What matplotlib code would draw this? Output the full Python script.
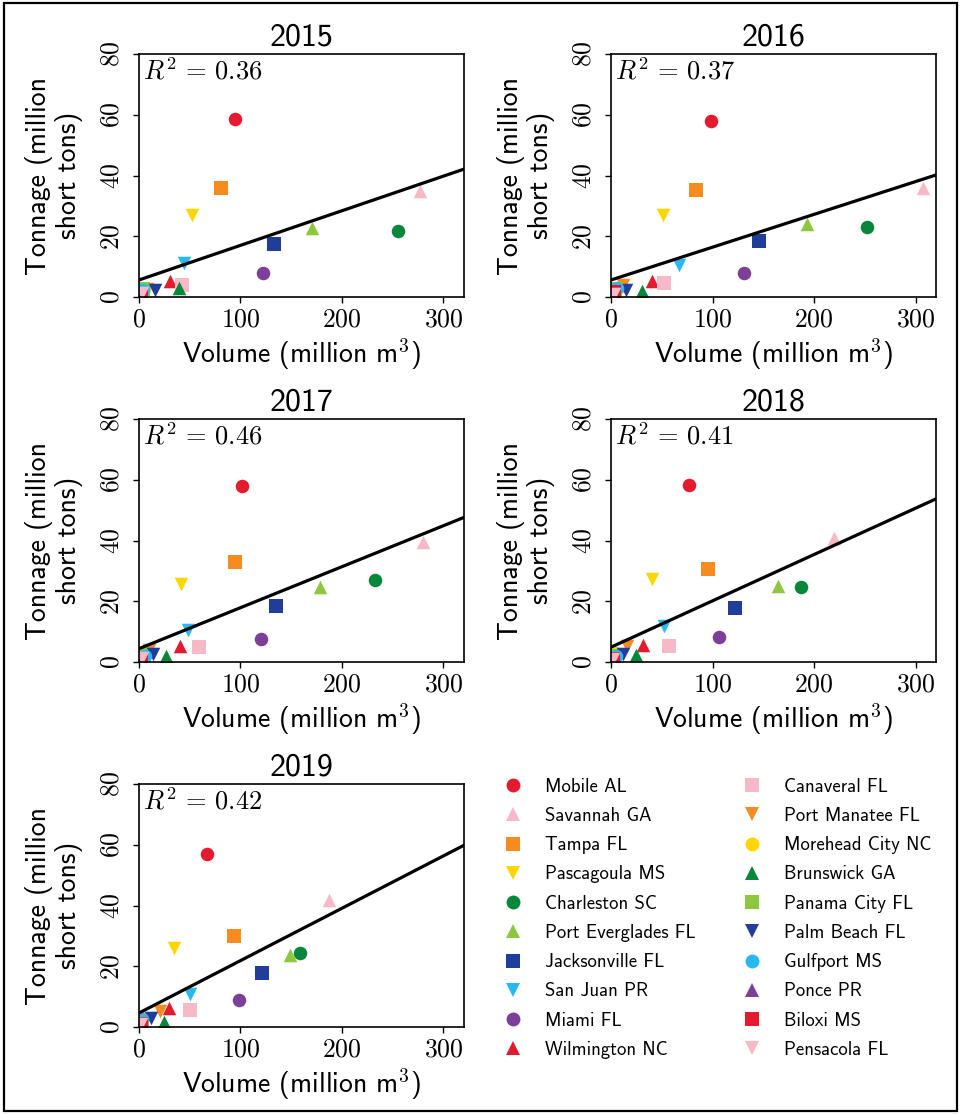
import numpy as np
import matplotlib.pyplot as plt
from matplotlib.lines import Line2D
from matplotlib.patches import Rectangle

plt.rcParams['font.family'] = 'cmr10'
plt.rcParams['mathtext.fontset'] = 'cm'
plt.rcParams['axes.formatter.use_mathtext'] = True

ports = ["Mobile AL", "Savannah GA", "Tampa FL", "Pascagoula MS", "Charleston SC",
         "Port Everglades FL", "Jacksonville FL", "San Juan PR", "Miami FL", "Wilmington NC",
         "Canaveral FL", "Port Manatee FL", "Morehead City NC", "Brunswick GA", "Panama City FL",
         "Palm Beach FL", "Gulfport MS", "Ponce PR", "Biloxi MS", "Pensacola FL"]

years = ["2015", "2016", "2017", "2018", "2019"]

# volume (million m3) per port, legend order
vol_2015 = [95, 277, 81, 52, 255, 170, 133, 44, 122, 31, 42, 8, 5, 39, 4, 16, 4, 2, 2, 3]
vol_2016 = [99, 307, 83.5, 51, 252, 193, 146, 67, 131.5, 40, 52, 12, 7, 31, 4, 15, 6, 2, 3, 3]
vol_2017 = [102, 280, 95, 41.5, 233, 178, 135, 48, 120, 40, 59.5, 10, 5, 27, 4, 14, 6, 2, 2, 3]
vol_2018 = [76.5, 220, 96, 40, 187.5, 165, 122.5, 52, 106, 32, 57, 15.5, 4, 25, 3, 12, 5, 3, 2, 2]
vol_2019 = [67, 187, 93.5, 35, 159, 149, 121.7, 50, 99, 29.4, 50.7, 20.6, 4, 24.5, 3, 12, 3, 2, 2, 2]

# tonnage (million short tons)
ton_2015 = [58.5, 35, 36, 27, 21.7, 22.7, 17.4, 11.3, 7.9, 5.3, 4, 2.5, 2.5, 3, 2.5, 2.3, 2.3, 1, 1, 1.3]
ton_2016 = [57.9, 36, 35.2, 27, 23, 24, 18.4, 10.5, 8, 5.3, 4.6, 3.8, 3, 2, 2.5, 2.3, 3, 1, 1.6, 1]
ton_2017 = [58, 39.5, 33, 25.8, 27, 24.7, 18.3, 10.6, 7.7, 5.2, 4.9, 4, 3, 1.9, 2.5, 2.8, 2, 0.5, 1, 1.2]
ton_2018 = [58.3, 41, 30.7, 27.4, 24.7, 24.9, 17.9, 12, 8.2, 5.7, 5.3, 5.3, 3, 2.2, 2, 2.5, 2, 0.7, 1, 1]
ton_2019 = [56.9, 41.7, 29.9, 26.1, 24.5, 23.8, 17.8, 11, 9, 6.4, 5.5, 5.3, 3, 1.6, 2, 2.8, 2.5, 0.7, 1, 1]

# linear fit
fit_intercept = [5.6, 5.6, 4.4, 4.9, 4.6]
fit_slope = [0.114, 0.108, 0.135, 0.1525, 0.1725]
r2_labels = ["0.36", "0.37", "0.46", "0.41", "0.42"]

vols = [vol_2015, vol_2016, vol_2017, vol_2018, vol_2019]
tons = [ton_2015, ton_2016, ton_2017, ton_2018, ton_2019]

palette = ['#e41a2e', '#f7b8c8', '#f68b1f', '#ffd700', '#08873c',
           '#8dc63f', '#1f3d99', '#29b8ef', '#7d3f98']
marks = ['o', '^', 's', 'v']
colors = [palette[i % 9] for i in range(len(ports))]
markers = [marks[i % 4] for i in range(len(ports))]

fig = plt.figure(figsize=(9.61, 11.14), dpi=100)

lefts = [0.1446, 0.6358]
bottoms = [0.7334, 0.4057, 0.0781]
w, h = 0.338, 0.2181

sans = 'cmss10'
for k, yr in enumerate(years):
    ax = fig.add_axes([lefts[k % 2], bottoms[k // 2], w, h])
    for i in range(len(ports)):
        ax.scatter(vols[k][i], tons[k][i], color=colors[i], marker=markers[i],
                   s=95, linewidths=0, zorder=2)
    xx = np.array([0, 320])
    ax.plot(xx, fit_intercept[k] + fit_slope[k] * xx, color='black', lw=2.3, zorder=3)
    ax.set_xlim(0, 320)
    ax.set_ylim(0, 80)
    ax.set_xticks([0, 100, 200, 300])
    ax.set_yticks([0, 20, 40, 60, 80])
    ax.tick_params(labelsize=18.5, length=4, width=1)
    ax.tick_params(axis='y', pad=7)
    for lab in ax.get_yticklabels():
        lab.set_rotation(90)
        lab.set_va('center')
    for sp in ax.spines.values():
        sp.set_linewidth(1.2)
    ax.set_title(yr, fontsize=23, pad=6, family=sans)
    ax.text(0.012, 0.985, r'$R^2 \,=\, %s$' % r2_labels[k], transform=ax.transAxes,
            va='top', ha='left', fontsize=19)
    ax.set_xlabel(r'Volume (million m$^{\mathsf{3}}$)', fontsize=20, family=sans, labelpad=4)
    ax.set_ylabel('Tonnage (million\nshort tons)', fontsize=20, family=sans, labelpad=12,
                  linespacing=1.1)

handles = [Line2D([], [], linestyle='none', marker=markers[i], color=colors[i],
                  markersize=10, markeredgewidth=0) for i in range(len(ports))]
fig.legend(handles, ports, loc='upper left', bbox_to_anchor=(0.507, 0.317), ncol=2,
           frameon=False, prop={'family': sans, 'size': 13.5}, handlelength=1.0,
           handletextpad=1.2, columnspacing=2.5, labelspacing=0.6)

fig.add_artist(Rectangle((0.004, 0.003), 0.992, 0.994, transform=fig.transFigure,
                         fill=False, edgecolor='black', linewidth=1.6))

plt.savefig("out.png", dpi=100)
